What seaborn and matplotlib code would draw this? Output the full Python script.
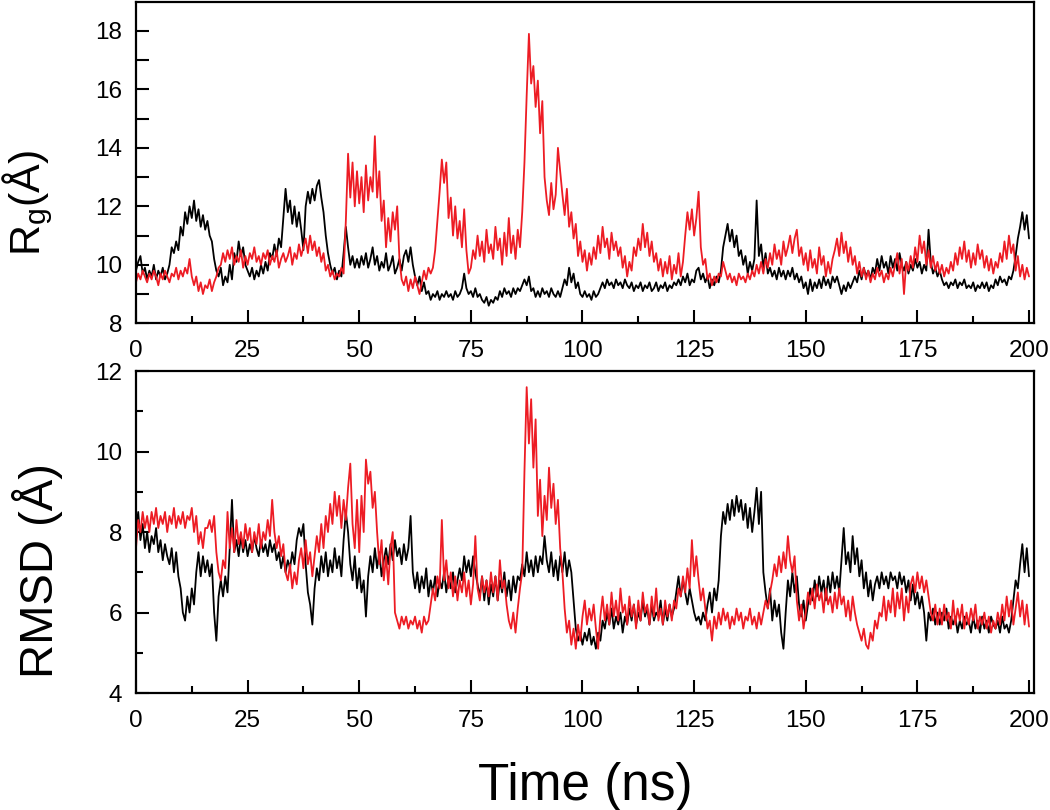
#!/usr/bin/env python3
"""
Rg and RMSD time series for two MD trajectories (black / red), 0-200 ns.
Values read off the reference figure at 0.5 ns steps.
"""

import numpy as np
import matplotlib
matplotlib.use('Agg')
import matplotlib.pyplot as plt
from matplotlib.ticker import MultipleLocator, FixedLocator, FixedFormatter
import seaborn as sns

# sampling grid (ns)
time_ns = np.arange(0, 200.5, 0.5)

# radius of gyration (Angstrom), black trajectory
rg_black = [
    9.8, 10.1, 10.3, 9.7, 9.9, 9.5, 9.8, 9.6, 10.0, 9.5, 9.8, 9.6, 9.9, 9.5, 9.7, 10.0, 10.6, 10.4, 10.8, 10.5,
    11.3, 11.0, 11.8, 11.4, 12.0, 11.6, 12.2, 11.5, 11.9, 11.3, 11.7, 11.2, 11.5, 11.0, 10.8, 10.2, 9.8, 9.6, 9.9, 9.3,
    9.6, 9.4, 10.0, 9.5, 10.4, 10.1, 10.8, 10.3, 10.6, 10.0, 9.8, 9.6, 9.9, 9.5, 9.8, 9.6, 10.0, 9.7, 10.1, 9.8,
    10.4, 10.2, 10.7, 10.3, 10.9, 10.6, 11.6, 12.6, 11.8, 12.2, 11.4, 12.0, 11.3, 11.8, 11.2, 10.5, 12.0, 12.5, 12.1, 12.6,
    12.2, 12.7, 12.9, 12.3, 11.8, 11.0, 10.4, 10.0, 9.7, 9.9, 9.5, 9.8, 9.6, 10.4, 11.3, 10.6, 10.0, 10.3, 9.9, 10.2,
    9.9, 10.3, 10.0, 10.4, 9.9, 10.2, 10.6, 10.0, 10.3, 9.8, 10.1, 9.9, 10.4, 9.8, 10.0, 10.3, 9.7, 9.9, 10.2, 9.8,
    10.3, 10.5, 10.1, 10.6, 10.0, 9.6, 9.3, 9.6, 9.1, 9.4, 9.0, 9.1, 8.8, 9.0, 8.9, 9.1, 8.8, 9.0, 8.9, 9.1,
    8.9, 9.0, 8.8, 9.1, 8.9, 9.0, 9.2, 9.7, 9.2, 9.0, 9.1, 8.9, 9.2, 8.9, 9.0, 8.8, 8.7, 8.9, 8.6, 8.8,
    8.7, 8.9, 8.8, 9.1, 8.9, 9.2, 9.0, 9.1, 8.9, 9.2, 9.0, 9.2, 9.1, 9.3, 9.5, 9.3, 9.6, 9.1, 9.2, 8.9,
    9.1, 8.9, 9.2, 9.0, 9.1, 8.9, 9.2, 9.0, 8.9, 9.1, 8.9, 9.2, 9.5, 9.3, 9.9, 9.4, 9.7, 9.2, 9.4, 9.0,
    8.9, 9.1, 8.9, 9.0, 8.8, 9.1, 8.9, 9.0, 9.2, 9.4, 9.2, 9.5, 9.3, 9.4, 9.2, 9.5, 9.3, 9.4, 9.2, 9.5,
    9.3, 9.2, 9.4, 9.1, 9.3, 9.2, 9.4, 9.1, 9.3, 9.2, 9.4, 9.1, 9.2, 9.4, 9.1, 9.3, 9.2, 9.4, 9.1, 9.3,
    9.2, 9.4, 9.3, 9.5, 9.3, 9.6, 9.4, 9.7, 9.3, 9.5, 9.4, 9.8, 9.9, 9.5, 9.7, 9.4, 9.6, 9.2, 9.5, 9.3,
    9.6, 9.4, 9.8, 10.6, 11.0, 11.4, 10.8, 11.2, 10.6, 11.0, 10.3, 10.5, 10.0, 10.3, 9.7, 10.1, 9.8, 10.2, 12.2, 10.3,
    10.7, 9.9, 10.4, 9.7, 9.9, 9.6, 9.8, 9.5, 9.9, 9.6, 9.8, 9.5, 9.8, 9.6, 9.9, 9.5, 9.7, 9.4, 9.6, 9.2,
    9.4, 9.0, 9.5, 9.1, 9.4, 9.2, 9.5, 9.2, 9.6, 9.3, 9.5, 9.2, 9.6, 9.4, 9.6, 9.3, 9.0, 9.3, 9.1, 9.4,
    9.2, 9.4, 9.6, 9.4, 9.8, 9.5, 9.9, 9.6, 9.8, 9.5, 9.9, 9.7, 10.2, 9.8, 10.3, 9.9, 10.1, 9.7, 10.3, 9.9,
    10.2, 9.8, 10.4, 10.0, 9.8, 10.1, 9.7, 10.0, 9.8, 10.2, 9.9, 10.1, 9.7, 10.0, 9.8, 11.2, 10.1, 9.7, 9.9, 9.6,
    9.8, 9.5, 9.3, 9.4, 9.2, 9.4, 9.3, 9.5, 9.2, 9.4, 9.3, 9.5, 9.2, 9.3, 9.2, 9.4, 9.1, 9.3, 9.2, 9.4,
    9.2, 9.4, 9.1, 9.3, 9.2, 9.5, 9.3, 9.6, 9.4, 9.5, 9.3, 9.6, 9.5, 9.8, 10.3, 10.9, 11.3, 11.8, 11.2, 11.7, 10.9,
]

# radius of gyration (Angstrom), red trajectory
rg_red = [
    9.4, 9.7, 9.5, 9.8, 9.6, 9.4, 9.7, 9.5, 9.8, 9.6, 9.3, 9.7, 9.5, 9.8, 9.6, 9.4, 9.7, 9.6, 9.9, 9.5,
    9.8, 9.6, 9.9, 9.7, 10.2, 9.6, 9.3, 9.6, 9.1, 9.4, 9.0, 9.3, 9.2, 9.5, 9.1, 9.4, 9.6, 9.9, 10.0, 10.4,
    10.1, 10.5, 10.2, 10.6, 10.0, 10.3, 10.1, 10.5, 9.9, 10.3, 10.0, 10.4, 10.2, 10.6, 10.1, 10.3, 10.0, 10.4, 10.2, 10.5,
    10.0, 10.3, 10.1, 10.5, 9.9, 10.2, 10.4, 10.1, 10.3, 10.6, 10.0, 10.4, 10.2, 10.7, 10.3, 10.6, 10.9, 10.4, 11.0, 10.5,
    10.8, 10.3, 10.6, 10.1, 10.4, 9.8, 10.0, 9.6, 9.8, 9.5, 9.7, 9.6, 9.9, 9.7, 11.5, 13.8, 12.3, 13.5, 12.0, 13.2,
    12.1, 13.0, 11.8, 13.4, 12.2, 13.0, 12.5, 14.4, 12.3, 13.2, 11.5, 12.2, 10.6, 11.6, 10.8, 11.8, 11.2, 12.0, 10.2, 9.5,
    9.3, 9.6, 9.1, 9.5, 9.2, 9.6, 9.3, 9.0, 9.4, 9.8, 9.5, 9.9, 9.7, 9.9, 10.5, 11.5, 12.5, 13.6, 12.8, 13.5,
    11.6, 12.3, 11.0, 12.0, 10.9, 11.5, 10.6, 11.9, 10.5, 9.7, 9.9, 10.5, 10.2, 11.0, 10.3, 10.8, 10.1, 11.2, 10.4, 10.7,
    10.2, 11.3, 10.5, 10.9, 10.0, 11.1, 10.3, 11.6, 10.4, 11.0, 10.2, 11.2, 10.6, 11.8, 13.5, 15.8, 17.9, 16.2, 16.8, 15.4,
    16.3, 14.5, 15.6, 13.0, 12.2, 11.7, 12.8, 11.9, 12.4, 14.0, 13.2, 12.4, 11.7, 12.6, 11.3, 11.8, 10.9, 11.4, 10.3, 10.8,
    10.1, 10.5, 9.8, 10.4, 10.0, 10.6, 10.2, 11.0, 10.4, 11.3, 10.6, 10.9, 10.2, 11.1, 10.5, 10.8, 10.3, 10.6, 9.9, 10.3,
    9.6, 10.1, 9.8, 10.6, 10.3, 10.9, 10.5, 11.4, 10.6, 11.1, 10.3, 10.8, 10.1, 10.4, 9.8, 10.2, 9.6, 10.1, 9.7, 10.3,
    9.5, 10.0, 9.7, 10.4, 9.6, 10.1, 11.0, 11.8, 11.2, 11.9, 11.0, 11.6, 12.5, 10.6, 10.0, 10.2, 9.5, 9.7, 9.3, 9.6,
    9.4, 9.7, 9.6, 10.1, 9.8, 9.5, 9.7, 9.4, 9.6, 9.3, 9.7, 9.5, 9.6, 9.4, 9.7, 9.5, 9.8, 9.6, 10.0, 9.7,
    10.1, 9.7, 10.2, 9.9, 10.4, 10.0, 10.7, 10.2, 10.5, 10.0, 10.8, 10.3, 10.6, 11.0, 10.4, 10.9, 11.2, 10.3, 10.6, 10.0,
    10.4, 9.8, 10.5, 9.9, 10.2, 9.7, 10.6, 10.0, 10.3, 9.6, 10.1, 9.7, 10.2, 10.5, 10.9, 10.3, 11.1, 10.4, 10.8, 10.1,
    10.6, 10.0, 10.3, 9.7, 10.1, 9.6, 9.9, 9.5, 9.8, 9.4, 9.7, 9.5, 9.9, 9.6, 9.8, 9.4, 9.7, 9.5, 9.9, 9.6,
    10.0, 10.4, 9.7, 10.2, 9.0, 10.1, 9.8, 10.3, 9.9, 10.6, 10.1, 11.0, 10.4, 10.8, 10.0, 10.5, 9.9, 10.3, 9.8, 10.1,
    9.7, 10.0, 9.6, 9.9, 9.7, 10.1, 9.8, 10.4, 10.0, 10.6, 10.2, 10.8, 10.1, 10.5, 9.9, 10.4, 10.0, 10.7, 10.2, 10.5,
    9.9, 10.3, 9.8, 10.2, 9.7, 10.1, 9.9, 10.4, 10.1, 10.8, 10.2, 11.0, 10.4, 10.7, 9.8, 10.3, 9.6, 10.0, 9.5, 9.9, 9.6,
]

# RMSD (Angstrom), black trajectory
rmsd_black = [
    8.0, 8.5, 7.8, 8.2, 7.6, 8.0, 7.5, 7.9, 7.7, 8.1, 7.5, 7.8, 7.3, 7.7, 7.4, 7.2, 7.6, 7.0, 7.5, 6.9,
    6.6, 6.0, 5.8, 6.4, 6.0, 6.6, 6.2, 7.0, 7.5, 6.9, 7.4, 7.0, 7.3, 6.9, 7.2, 6.0, 5.3, 6.4, 6.8, 6.4,
    6.9, 6.5, 7.6, 8.8, 7.5, 7.8, 7.4, 7.9, 7.5, 7.8, 7.4, 7.7, 7.5, 7.9, 7.6, 7.4, 7.8, 7.5, 7.7, 7.4,
    7.8, 7.5, 7.7, 7.3, 7.5, 7.1, 7.4, 7.0, 7.3, 7.1, 7.5, 7.2, 7.8, 8.1, 7.9, 8.2, 7.2, 6.5, 6.2, 5.7,
    6.6, 7.1, 6.8, 7.4, 7.0, 7.5, 6.9, 7.3, 7.0, 7.6, 7.1, 7.4, 6.9, 7.8, 8.5, 8.0, 7.2, 6.8, 7.4, 6.6,
    7.1, 6.5, 6.8, 5.9, 6.9, 7.4, 7.0, 7.6, 7.1, 7.5, 6.9, 7.3, 7.6, 7.2, 7.7, 7.3, 7.8, 7.4, 7.6, 7.2,
    7.7, 7.3, 7.6, 8.4, 7.0, 6.6, 7.0, 6.5, 6.9, 6.6, 7.1, 6.4, 6.8, 6.5, 6.9, 6.4, 6.8, 6.6, 7.0, 6.5,
    6.9, 6.6, 7.0, 6.5, 6.8, 7.1, 6.8, 7.4, 7.0, 7.3, 6.9, 7.4, 7.0, 6.7, 6.4, 6.9, 6.3, 6.8, 6.2, 6.7,
    6.4, 6.9, 6.3, 6.8, 6.5, 7.0, 6.4, 6.8, 6.3, 6.9, 6.5, 6.9, 6.8, 7.2, 6.9, 7.5, 7.0, 7.3, 6.9, 7.4,
    7.0, 7.4, 7.2, 7.9, 7.3, 7.0, 7.5, 6.9, 7.3, 6.8, 7.4, 7.0, 7.5, 6.9, 7.3, 7.0, 6.3, 5.6, 5.3, 5.5,
    5.2, 5.5, 5.3, 5.6, 5.2, 5.4, 5.1, 5.5, 5.3, 5.8, 5.6, 6.0, 5.7, 6.1, 5.6, 5.9, 5.7, 6.0, 5.5, 5.9,
    5.7, 6.1, 5.8, 6.2, 5.7, 6.0, 5.8, 6.3, 5.9, 6.1, 5.7, 6.2, 5.8, 6.0, 5.9, 6.3, 5.7, 6.1, 5.8, 6.2,
    5.9, 6.1, 6.5, 6.9, 6.4, 6.8, 6.5, 6.2, 6.6, 6.3, 6.0, 5.8, 5.9, 5.7, 6.0, 5.8, 6.2, 6.5, 6.0, 6.6,
    6.3, 6.8, 7.9, 8.5, 8.2, 8.7, 8.3, 8.8, 8.4, 8.9, 8.5, 8.8, 8.3, 8.7, 8.1, 8.6, 8.0, 8.5, 9.1, 8.2,
    9.0, 7.0, 6.5, 6.1, 6.6, 5.8, 6.3, 5.9, 6.2, 5.5, 5.1, 6.0, 6.8, 6.4, 7.0, 6.5, 6.9, 6.2, 5.9, 6.3,
    5.8, 6.2, 6.6, 6.3, 6.8, 6.4, 6.9, 6.5, 6.8, 6.3, 6.9, 6.5, 7.0, 6.6, 6.9, 6.5, 7.3, 8.1, 7.2, 7.5,
    7.0, 7.9, 7.2, 7.6, 6.9, 7.3, 6.6, 7.0, 6.4, 6.8, 6.3, 6.7, 6.9, 6.6, 7.0, 6.7, 6.9, 6.6, 7.0, 6.8,
    6.9, 6.6, 7.0, 6.7, 6.9, 6.5, 6.8, 6.3, 6.7, 6.2, 6.5, 6.1, 6.4, 6.0, 5.3, 6.0, 5.8, 6.1, 5.7, 6.0,
    5.7, 6.0, 5.8, 6.1, 5.6, 5.9, 5.7, 5.9, 5.5, 5.8, 5.6, 5.9, 5.7, 5.8, 5.5, 5.9, 5.6, 5.8, 5.5, 5.9,
    5.6, 5.8, 5.5, 5.9, 5.7, 5.6, 5.8, 5.5, 5.9, 5.6, 5.7, 5.5, 5.8, 6.3, 6.8, 6.6, 7.2, 7.7, 7.0, 7.6, 6.9,
]

# RMSD (Angstrom), red trajectory
rmsd_red = [
    7.6, 8.3, 8.0, 8.5, 8.1, 8.4, 8.0, 8.5, 8.2, 8.6, 8.1, 8.4, 8.2, 8.5, 8.0, 8.4, 8.2, 8.6, 8.1, 8.4,
    8.2, 8.5, 8.1, 8.4, 8.3, 8.6, 8.0, 8.4, 7.7, 8.0, 7.6, 8.1, 8.1, 8.3, 8.0, 8.4, 7.5, 7.0, 6.8, 7.3,
    7.1, 8.5, 7.6, 8.1, 7.5, 8.3, 7.7, 8.0, 7.6, 8.2, 7.8, 8.1, 7.5, 8.0, 7.7, 8.2, 7.6, 8.0, 7.8, 8.3,
    7.9, 8.8, 8.0, 7.6, 7.9, 7.4, 7.7, 7.0, 6.8, 7.2, 6.6, 7.0, 6.7, 7.3, 7.6, 7.1, 7.8, 7.2, 7.5, 6.9,
    7.4, 7.9, 7.5, 8.2, 7.6, 8.4, 8.0, 8.7, 8.2, 9.0, 8.4, 8.9, 8.1, 8.8, 8.3, 9.1, 9.7, 8.2, 7.6, 8.8,
    7.5, 8.9, 8.0, 9.8, 9.2, 9.5, 8.6, 9.0, 8.0, 7.2, 7.8, 6.8, 7.4, 6.7, 7.6, 8.0, 6.0, 5.8, 5.6, 5.9,
    5.7, 5.9, 5.6, 5.8, 5.7, 5.9, 5.6, 5.8, 5.5, 5.9, 5.7, 5.8, 6.2, 6.6, 6.3, 6.9, 6.6, 8.3, 6.8, 7.3,
    6.6, 7.0, 6.4, 6.9, 6.3, 6.8, 6.5, 7.0, 6.4, 6.8, 6.2, 6.7, 7.9, 6.6, 6.3, 6.9, 6.5, 6.8, 6.4, 7.0,
    6.5, 6.9, 6.3, 7.3, 6.6, 6.8, 6.2, 5.8, 5.6, 6.0, 5.5, 6.1, 6.6, 7.0, 9.5, 11.6, 10.2, 11.3, 9.6, 10.8,
    8.4, 9.3, 7.9, 8.9, 8.3, 9.6, 8.6, 9.2, 8.2, 8.8, 7.6, 7.0, 6.1, 5.5, 5.8, 5.2, 5.6, 5.1, 5.7, 5.3,
    5.9, 6.3, 5.7, 6.1, 5.8, 6.2, 5.6, 5.1, 5.9, 6.4, 5.8, 6.2, 5.7, 6.5, 5.9, 6.3, 5.8, 6.6, 6.0, 6.2,
    5.7, 6.4, 5.9, 6.2, 5.6, 6.3, 5.8, 6.5, 6.0, 6.2, 5.7, 6.4, 5.9, 6.6, 5.8, 6.1, 5.7, 6.3, 5.9, 6.2,
    5.8, 6.3, 6.1, 6.6, 6.4, 6.9, 6.5, 7.1, 6.6, 7.8, 6.9, 7.4, 6.8, 6.3, 6.6, 6.1, 5.6, 5.8, 5.3, 5.9,
    5.6, 6.0, 5.7, 6.1, 5.8, 6.0, 5.6, 5.9, 5.7, 6.1, 5.8, 6.0, 5.6, 5.9, 5.8, 6.1, 5.7, 5.9, 5.6, 6.0,
    5.7, 6.0, 6.3, 6.1, 6.5, 6.8, 7.2, 6.9, 7.4, 7.0, 7.5, 7.1, 7.9, 7.3, 7.0, 7.4, 6.3, 5.8, 6.2, 5.6,
    6.0, 6.5, 6.2, 6.6, 6.1, 6.7, 6.3, 6.5, 6.0, 6.6, 6.2, 6.4, 6.0, 6.5, 6.1, 6.6, 6.2, 6.4, 5.9, 6.3,
    5.8, 6.4, 6.0, 5.7, 5.5, 5.3, 5.6, 5.2, 5.1, 5.5, 5.3, 5.8, 5.6, 6.0, 5.9, 6.4, 5.8, 6.3, 6.0, 6.6,
    5.9, 6.5, 6.1, 6.6, 5.8, 6.4, 6.0, 6.7, 6.9, 6.5, 7.0, 6.6, 6.9, 6.5, 6.8, 6.4, 6.0, 5.8, 6.2, 5.7,
    6.1, 5.7, 6.2, 5.8, 6.0, 5.6, 6.3, 5.7, 6.1, 5.8, 6.2, 5.6, 6.0, 5.7, 6.1, 5.8, 6.2, 5.6, 5.9, 5.7,
    6.0, 5.6, 5.9, 5.5, 5.8, 5.6, 6.0, 5.7, 6.2, 5.8, 6.4, 5.9, 6.3, 5.7, 6.1, 6.5, 5.9, 6.3, 5.7, 6.2, 5.65,
]

# axis ticks / labels
x_major = [0, 25, 50, 75, 100, 125, 150, 175, 200]
rg_ticks = [8, 9, 10, 11, 12, 13, 14, 15, 16, 17, 18]
rg_ticklabels = ['8', '', '10', '', '12', '', '14', '', '16', '', '18']
rmsd_major = [4, 6, 8, 10, 12]

RED = '#ED1C24'
FONT = ['Liberation Sans', 'DejaVu Sans']


def style_axis(ax):
    for sp in ax.spines.values():
        sp.set_visible(True)
        sp.set_linewidth(1.6)
        sp.set_color('black')
    ax.set_xlim(0, 201.1)
    ax.xaxis.set_major_locator(FixedLocator(x_major))
    ax.xaxis.set_minor_locator(MultipleLocator(12.5))
    ax.tick_params(which='both', direction='in', top=False, right=False,
                   width=1.5, colors='black', labelcolor='black', labelsize=17.5)
    ax.tick_params(which='major', length=9.5)
    ax.tick_params(which='minor', length=5)
    ax.tick_params(axis='x', pad=12)
    ax.tick_params(axis='y', pad=10)
    ax.set_xlabel('')
    ax.grid(False)


def main():
    for arr in (rg_black, rg_red, rmsd_black, rmsd_red):
        assert len(arr) == len(time_ns), len(arr)

    sns.set_theme(style='ticks')
    plt.rcParams['font.family'] = FONT
    plt.rcParams['mathtext.default'] = 'regular'
    plt.rcParams['text.color'] = 'black'
    plt.rcParams['axes.labelcolor'] = 'black'

    fig = plt.figure(figsize=(10.5, 8.1), dpi=100)
    ax_top = fig.add_axes([0.1295, 0.6009, 0.8552, 0.3970])
    ax_bot = fig.add_axes([0.1295, 0.1444, 0.8552, 0.3975])

    # top: radius of gyration
    sns.lineplot(x=time_ns, y=rg_black, ax=ax_top, color='black', linewidth=1.3)
    sns.lineplot(x=time_ns, y=rg_red, ax=ax_top, color=RED, linewidth=1.3)
    style_axis(ax_top)
    ax_top.set_ylim(8, 19)
    ax_top.yaxis.set_major_locator(FixedLocator(rg_ticks))
    ax_top.yaxis.set_major_formatter(FixedFormatter(rg_ticklabels))
    ax_top.set_ylabel('')
    ax_top.text(-0.1070, 0.374, 'R$_g$(Å)', transform=ax_top.transAxes,
                rotation=90, rotation_mode='anchor', ha='center', va='baseline',
                fontsize=31)

    # bottom: RMSD
    sns.lineplot(x=time_ns, y=rmsd_black, ax=ax_bot, color='black', linewidth=1.3)
    sns.lineplot(x=time_ns, y=rmsd_red, ax=ax_bot, color=RED, linewidth=1.3)
    style_axis(ax_bot)
    ax_bot.set_ylim(4, 12)
    ax_bot.yaxis.set_major_locator(FixedLocator(rmsd_major))
    ax_bot.yaxis.set_minor_locator(MultipleLocator(1))
    ax_bot.set_ylabel('')
    ax_bot.text(-0.0924, 0.379, 'RMSD (Å)', transform=ax_bot.transAxes,
                rotation=90, rotation_mode='anchor', ha='center', va='baseline',
                fontsize=34)

    fig.text(0.557, 0.0123, 'Time (ns)', ha='center', va='baseline', fontsize=37)

    fig.savefig('out.png', dpi=100)
    plt.close(fig)


if __name__ == '__main__':
    main()
